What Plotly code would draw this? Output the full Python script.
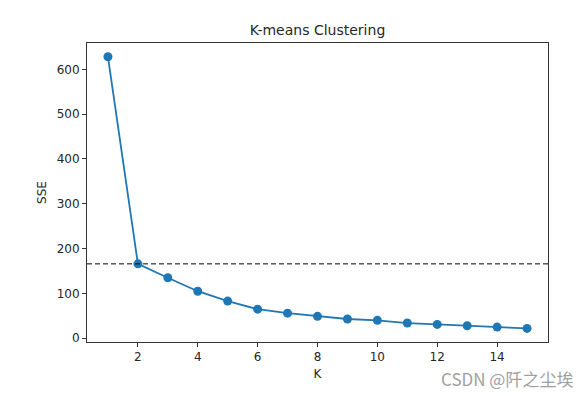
import plotly.graph_objects as go

k_values = list(range(1, 16))
sse_values = [628, 166, 135, 105, 83, 65, 56, 49, 43, 40, 34, 31, 28, 25, 22]
elbow_sse = 166
x_ticks = [2, 4, 6, 8, 10, 12, 14]
y_ticks = [0, 100, 200, 300, 400, 500, 600]

fig = go.Figure()
fig.add_trace(go.Scatter(
    x=k_values, y=sse_values, mode="lines+markers",
    line=dict(color="#1f77b4", width=1.8),
    marker=dict(color="#1f77b4", size=9),
    showlegend=False,
))
fig.add_hline(y=elbow_sse, line=dict(color="black", width=1, dash="5px,3px"))

font = "DejaVu Sans, sans-serif"
txt = "#262626"
axis_common = dict(
    showline=True, linecolor="#333333", linewidth=1, mirror=True,
    ticks="outside", ticklen=4, tickcolor="#333333", tickwidth=1,
    showgrid=False, zeroline=False,
    tickfont=dict(family=font, size=12, color=txt),
)
fig.update_xaxes(range=[0.3, 15.7], tickvals=x_ticks,
                 title=dict(text="K", font=dict(family=font, size=12, color=txt), standoff=6),
                 **axis_common)
fig.update_yaxes(range=[-8.3, 658.7], tickvals=y_ticks,
                 title=dict(text="SSE", font=dict(family=font, size=12, color=txt), standoff=7),
                 **axis_common)

# page has an 8px body margin, so the figure is 8px smaller and shifted
W, H = 573, 388
L, R, T, B = 79, 33, 35, 54
fig.update_layout(
    width=W, height=H,
    margin=dict(l=L, r=R, t=T, b=B),
    paper_bgcolor="white", plot_bgcolor="white",
    title=dict(text="K-means Clustering", x=(L + (W - R)) / 2 / W, xanchor="center",
               y=1 - 22 / H, yanchor="middle",
               font=dict(family=font, size=14, color=txt)),
    annotations=[dict(text="CSDN @阡之尘埃", xref="paper", yref="paper",
                      x=(567 - L) / (W - L - R), y=-(370 - (H - B)) / (H - T - B),
                      xanchor="right", yanchor="middle", showarrow=False,
                      font=dict(family="Noto Sans CJK SC, sans-serif", size=17, color="#a0a0a0"))],
)

fig.write_html("out.html")
